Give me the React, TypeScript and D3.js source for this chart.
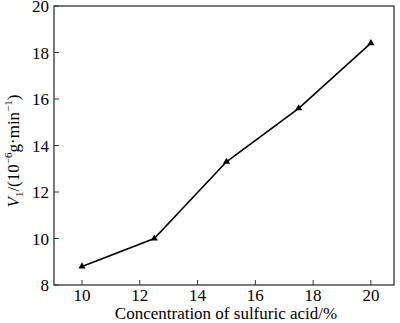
import * as d3 from "d3";

const concentration = [10, 12.5, 15, 17.5, 20];
const rate = [8.8, 10.0, 13.3, 15.6, 18.4];
const xTicks = [10, 12, 14, 16, 18, 20];
const yTicks = [8, 10, 12, 14, 16, 18, 20];

const width = 400,
	height = 323;
const margin = { left: 54, right: 6, top: 6, bottom: 38 };

export default function App() {
	const x = d3
		.scaleLinear()
		.domain([9.03, 20.8])
		.range([margin.left, width - margin.right]);
	const y = d3
		.scaleLinear()
		.domain([8, 20])
		.range([height - margin.bottom, margin.top]);

	const line = d3
		.line<number>()
		.x((d, i) => x(concentration[i]))
		.y((d) => y(d));

	const tri = d3.symbol(d3.symbolTriangle, 22);
	const font = "Liberation Serif, serif";

	return (
		<svg width={width} height={height} style={{ position: "absolute", left: 0, top: 0 }}>
			<rect x={0} y={0} width={width} height={height} fill="white" />
			<rect
				x={margin.left}
				y={margin.top}
				width={width - margin.left - margin.right}
				height={height - margin.top - margin.bottom}
				fill="none"
				stroke="#333"
				strokeWidth={1.3}
			/>
			{yTicks.map((t) => (
				<g key={t}>
					<line x1={margin.left} x2={margin.left + 5} y1={y(t)} y2={y(t)} stroke="#333" strokeWidth={1} />
					<text x={margin.left - 5} y={y(t) + 6} textAnchor="end" fontSize={17} fontFamily={font}>
						{t}
					</text>
				</g>
			))}
			{xTicks.map((t) => (
				<g key={t}>
					<line x1={x(t)} x2={x(t)} y1={y(8)} y2={y(8) - 5} stroke="#333" strokeWidth={1} />
					<text x={x(t)} y={301} textAnchor="middle" fontSize={17} fontFamily={font}>
						{t}
					</text>
				</g>
			))}
			<path d={line(rate) ?? ""} fill="none" stroke="black" strokeWidth={1.6} />
			{rate.map((d, i) => (
				<path key={i} d={tri() ?? ""} transform={`translate(${x(concentration[i])},${y(d)})`} fill="black" />
			))}
			<text x={226} y={319} textAnchor="middle" fontSize={17} fontFamily={font}>
				Concentration of sulfuric acid/%
			</text>
			<text transform={`translate(19,151) rotate(-90)`} textAnchor="middle" fontSize={17} fontFamily={font}>
				<tspan fontStyle="italic">V</tspan>
				<tspan fontSize={11} dy={4}>1</tspan>
				<tspan dy={-4}>/(10</tspan>
				<tspan fontSize={11} dy={-7}>−6</tspan>
				<tspan dy={7}>g·min</tspan>
				<tspan fontSize={11} dy={-7}>−1</tspan>
				<tspan dy={7}>)</tspan>
			</text>
		</svg>
	);
}
